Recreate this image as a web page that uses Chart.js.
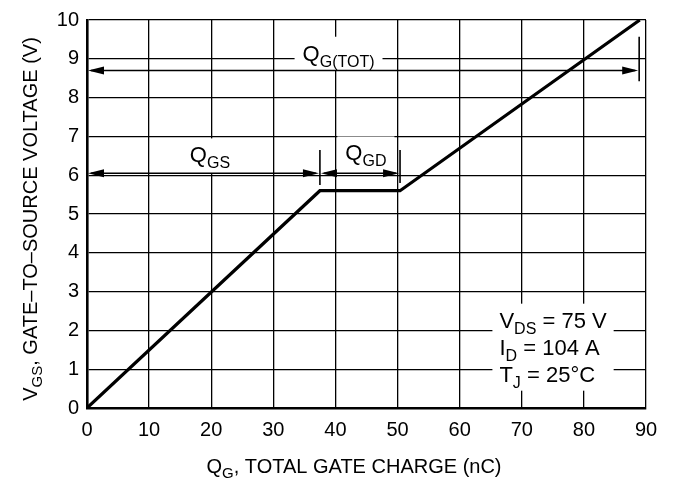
<!DOCTYPE html>
<html>
<head>
<meta charset="utf-8">
<script src="https://cdn.jsdelivr.net/npm/chart.js@4.4.0/dist/chart.umd.min.js"></script>
<style>
html, body { margin: 0; padding: 0; background: #fff; }
</style>
</head>
<body>
<canvas id="gateChart" width="678" height="479"></canvas>
<script>
// gate charge curve
var charge = [0, 37.5, 50.4, 89];      // Q_G (nC)
var voltage = [0, 5.6, 5.6, 10];       // V_GS (V)
var xTicks = [0, 10, 20, 30, 40, 50, 60, 70, 80, 90];
var yTicks = [0, 1, 2, 3, 4, 5, 6, 7, 8, 9, 10];

// charge spans marked with arrows
var spanNames = [['Q', 'GS'], ['Q', 'GD'], ['Q', 'G(TOT)']];
var spanFrom = [0, 37.5, 0];
var spanTo = [37.5, 50.4, 88.9];
var spanLevel = [6.05, 6.05, 8.7];

// test conditions
var conditions = [['V', 'DS', ' = 75 V'], ['I', 'D', ' = 104 A'], ['T', 'J', ' = 25\u00B0C']];

var FONT = '"Liberation Sans", Arial, Helvetica, sans-serif';

function partsWidth(ctx, parts, size, subSize) {
    var w = 0;
    ctx.font = size + 'px ' + FONT;
    w += ctx.measureText(parts[0]).width;
    if (parts[2]) w += ctx.measureText(parts[2]).width;
    ctx.font = subSize + 'px ' + FONT;
    w += ctx.measureText(parts[1]).width;
    return w;
}

// draw text with a subscript, left aligned on the baseline
function drawParts(ctx, x, y, parts, size, subSize, drop) {
    ctx.textAlign = 'left';
    ctx.textBaseline = 'alphabetic';
    ctx.font = size + 'px ' + FONT;
    ctx.fillText(parts[0], x, y);
    x += ctx.measureText(parts[0]).width;
    ctx.font = subSize + 'px ' + FONT;
    ctx.fillText(parts[1], x, y + drop);
    x += ctx.measureText(parts[1]).width;
    if (parts[2]) {
        ctx.font = size + 'px ' + FONT;
        ctx.fillText(parts[2], x, y);
    }
}

function arrowHead(ctx, x, y, dir) {
    ctx.beginPath();
    ctx.moveTo(x, y);
    ctx.lineTo(x - dir * 16, y - 4);
    ctx.lineTo(x - dir * 16, y + 4);
    ctx.closePath();
    ctx.fill();
}

var gatePlugin = {
    id: 'gateNotes',
    afterDatasetsDraw: function (chart, args, opts) {
        var ctx = chart.ctx;
        var xs = chart.scales.x, ys = chart.scales.y;
        ctx.save();
        ctx.fillStyle = '#000';
        ctx.strokeStyle = '#000';

        // span labels with white backing over the grid
        for (var i = 0; i < spanNames.length; i++) {
            var w = partsWidth(ctx, spanNames[i], 22, 16);
            var cx = xs.getPixelForValue(opts.labelAt[i][0]);
            var by = ys.getPixelForValue(opts.labelAt[i][1]);
            var ay = ys.getPixelForValue(spanLevel[i]);
            ctx.fillStyle = '#fff';
            ctx.fillRect(cx - w / 2 - 8, by - 24, w + 16, ay - by + 24);
            ctx.fillStyle = '#000';
            drawParts(ctx, cx - w / 2, by, spanNames[i], 22, 16, 6);
        }

        // arrows
        ctx.lineWidth = 1.6;
        for (var j = 0; j < spanFrom.length; j++) {
            var x1 = xs.getPixelForValue(spanFrom[j]);
            var x2 = xs.getPixelForValue(spanTo[j]);
            var y = ys.getPixelForValue(spanLevel[j]);
            ctx.beginPath();
            ctx.moveTo(x1 + 4, y);
            ctx.lineTo(x2 - 4, y);
            ctx.stroke();
            arrowHead(ctx, x1 + 1, y, -1);
            arrowHead(ctx, x2 - 1, y, 1);
        }

        // vertical marker bars
        opts.bars.forEach(function (b) {
            var bx = xs.getPixelForValue(b[0]);
            ctx.beginPath();
            ctx.moveTo(bx, ys.getPixelForValue(b[1]));
            ctx.lineTo(bx, ys.getPixelForValue(b[2]));
            ctx.stroke();
        });

        // conditions box
        var lx = xs.getPixelForValue(opts.condAt[0]);
        var ly = ys.getPixelForValue(opts.condAt[1]);
        var maxW = 0;
        conditions.forEach(function (c) { maxW = Math.max(maxW, partsWidth(ctx, c, 22, 16)); });
        ctx.fillStyle = '#fff';
        ctx.fillRect(lx - 7, ly - 24, maxW + 14, 2 * 27 + 33);
        ctx.fillStyle = '#000';
        conditions.forEach(function (c, k) {
            drawParts(ctx, lx, ly + k * 27, c, 22, 16, 6);
        });

        // axis titles
        var xt = ['Q', 'G', ', TOTAL GATE CHARGE (nC)'];
        var xw = partsWidth(ctx, xt, 20, 15);
        drawParts(ctx, 354 - xw / 2, 473, xt, 20, 15, 5);

        var yt = ['V', 'GS', ', GATE\u2013TO\u2013SOURCE VOLTAGE (V)'];
        var yw = partsWidth(ctx, yt, 20, 15);
        ctx.translate(37, 219);
        ctx.rotate(-Math.PI / 2);
        drawParts(ctx, -yw / 2, 0, yt, 20, 15, 5);
        ctx.restore();
    }
};

function createChart() {
    var ctx = document.getElementById('gateChart').getContext('2d');
    var points = charge.map(function (q, i) { return { x: q, y: voltage[i] }; });
    new Chart(ctx, {
        type: 'line',
        data: {
            datasets: [{
                data: points,
                borderColor: '#000',
                borderWidth: 3.2,
                pointRadius: 0,
                tension: 0,
                fill: false
            }]
        },
        options: {
            responsive: false,
            animation: false,
            layout: { padding: { top: 16, right: 32, left: 0, bottom: 0 } },
            plugins: {
                legend: { display: false },
                tooltip: { enabled: false },
                gateNotes: {
                    labelAt: [[19.8, 6.33], [44.9, 6.38], [40.5, 8.95]],
                    bars: [[37.5, 5.75, 6.65], [50.4, 5.8, 6.65], [88.9, 8.42, 9.57]],
                    condAt: [66.4, 2.07]
                }
            },
            scales: {
                x: {
                    type: 'linear',
                    min: 0,
                    max: 90,
                    afterBuildTicks: function (s) { s.ticks = xTicks.map(function (v) { return { value: v }; }); },
                    afterFit: function (s) { s.height = 71; },
                    ticks: { color: '#000', padding: 10, maxRotation: 0, font: { size: 20, family: FONT } },
                    grid: { color: '#000', lineWidth: 1.3, drawTicks: false },
                    border: { color: '#000', width: 2.6 }
                },
                y: {
                    min: 0,
                    max: 10,
                    afterBuildTicks: function (s) { s.ticks = yTicks.map(function (v) { return { value: v }; }); },
                    afterFit: function (s) { s.width = 87; },
                    ticks: { color: '#000', padding: 8, font: { size: 20, family: FONT } },
                    grid: { color: '#000', lineWidth: 1.3, drawTicks: false },
                    border: { color: '#000', width: 2.6 }
                }
            }
        },
        plugins: [gatePlugin]
    });
}

createChart();
</script>
</body>
</html>
